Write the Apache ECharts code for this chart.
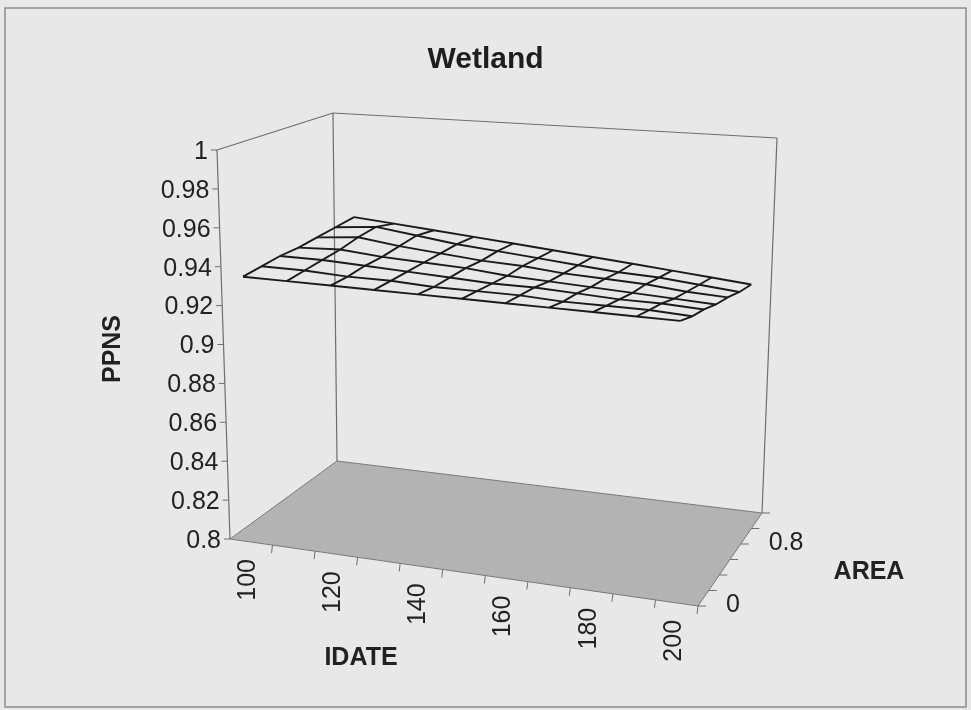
<!DOCTYPE html>
<html><head><meta charset="utf-8">
<script src="https://cdn.jsdelivr.net/npm/echarts@6/dist/echarts.min.js"></script>
<style>html,body{margin:0;padding:0;background:#e8e8e8}#c{width:971px;height:710px}</style>
</head><body><div id="c"></div>
<script>
// ---------- data ----------
const chartTitle = 'Wetland';
const idateCats = [100,110,120,130,140,150,160,170,180,190,200];
const idateLabels = ['100','','120','','140','','160','','180','','200'];
const areaCats = [0,0.2,0.4,0.6,0.8,1.0,1.2];
const areaLabels = ['0','','','','0.8','',''];
const ppnsTicks = [0.8,0.82,0.84,0.86,0.88,0.9,0.92,0.94,0.96,0.98,1];
const ppnsLabels = ['0.8','0.82','0.84','0.86','0.88','0.9','0.92','0.94','0.96','0.98','1'];
const ppnsMin = 0.8, ppnsMax = 1;
// PPNS surface rows, one per AREA series (front to back), across IDATE
const ppnsArea0  = [0.936,0.936,0.936,0.936,0.936,0.936,0.936,0.936,0.936,0.936,0.936];
const ppnsArea02 = [0.937,0.937,0.936,0.936,0.935,0.935,0.935,0.934,0.934,0.934,0.933];
const ppnsArea04 = [0.938,0.938,0.937,0.936,0.935,0.934,0.934,0.933,0.932,0.932,0.931];
const ppnsArea06 = [0.938,0.939,0.937,0.936,0.935,0.933,0.932,0.931,0.930,0.929,0.928];
const ppnsArea08 = [0.939,0.941,0.938,0.936,0.934,0.933,0.931,0.930,0.929,0.927,0.926];
const ppnsArea10 = [0.940,0.942,0.939,0.936,0.934,0.932,0.930,0.928,0.927,0.925,0.923];
const ppnsArea12 = [0.941,0.939,0.937,0.935,0.933,0.931,0.929,0.927,0.925,0.923,0.921];
const surfaceRows = [ppnsArea0,ppnsArea02,ppnsArea04,ppnsArea06,ppnsArea08,ppnsArea10,ppnsArea12];

// ---------- 3D box layout (projection of the unit cube) ----------
const BOX = {
  f0:[230,539], f1:[698,606], b0:[337,461], b1:[762,513],      // floor corners
  hf0:[-13,-389], hf1:[6,-416], hb0:[-4,-348], hb1:[15,-375]    // vertical edge vectors
};
function bil(a,b,c,d,u,v){ // a(0,0) b(1,0) c(0,1) d(1,1)
  return [0,1].map(k => a[k]*(1-u)*(1-v) + b[k]*u*(1-v) + c[k]*(1-u)*v + d[k]*u*v);
}
function proj(u,v,w){
  const f = bil(BOX.f0,BOX.f1,BOX.b0,BOX.b1,u,v);
  const h = bil(BOX.hf0,BOX.hf1,BOX.hb0,BOX.hb1,u,v);
  return [f[0]+w*h[0], f[1]+w*h[1]];
}
const nI = idateCats.length, nA = areaCats.length;
const uOf = i => (i+0.5)/nI;        // categories centred in slots
const vOf = j => j/(nA-1);          // series on tick marks
const wOf = p => (p-ppnsMin)/(ppnsMax-ppnsMin);

// ---------- build geometry from data ----------
const floorPoly = [proj(0,0,0),proj(1,0,0),proj(1,1,0),proj(0,1,0)];
const boxSegs = [
  [proj(0,0,0),proj(0,0,1)], [proj(0,0,1),proj(0,1,1)], [proj(0,1,0),proj(0,1,1)],
  [proj(0,1,1),proj(1,1,1)], [proj(1,1,1),proj(1,1,0)]
];
const tickSegs = [];
ppnsTicks.forEach(t => { const p = proj(0,0,wOf(t)); tickSegs.push([p,[p[0]-6,p[1]]]); });
for (let i=1;i<=nI;i++){ const p = proj(i/nI,0,0); tickSegs.push([p,[p[0]-1,p[1]+8]]); }
areaCats.forEach((a,j) => { const p = proj(1,vOf(j),0); tickSegs.push([p,[p[0]+8,p[1]]]); });

const surfLines = [];
surfaceRows.forEach((row,j) => surfLines.push(row.map((val,i) => proj(uOf(i),vOf(j),wOf(val)))));
idateCats.forEach((c,i) => surfLines.push(surfaceRows.map((row,j) => proj(uOf(i),vOf(j),wOf(row[i])))));

const FONT = '"Liberation Sans", Arial, sans-serif';
const texts = [];
ppnsTicks.forEach((t,k) => { const p = proj(0,0,wOf(t));
  texts.push({p:[p[0]-9,p[1]+2], text:ppnsLabels[k], align:'right', va:'middle', rot:0, font:'25px '+FONT}); });
idateCats.forEach((c,i) => { if(!idateLabels[i]) return; const p = proj(uOf(i),0,0);
  texts.push({p:[p[0]-3,p[1]+17], text:idateLabels[i], align:'right', va:'middle', rot:Math.PI/2, font:'25px '+FONT}); });
areaCats.forEach((a,j) => { if(!areaLabels[j]) return; const p = proj(1,vOf(j),0);
  texts.push({p:[p[0]+28,p[1]-1], text:areaLabels[j], align:'left', va:'middle', rot:0, font:'25px '+FONT}); });
texts.push({p:[113,349], text:'PPNS', align:'center', va:'middle', rot:Math.PI/2, font:'bold 25px '+FONT});
texts.push({p:[361,658], text:'IDATE', align:'center', va:'middle', rot:0, font:'bold 25px '+FONT});
texts.push({p:[869,572], text:'AREA', align:'center', va:'middle', rot:0, font:'bold 25px '+FONT});

// ---------- chart ----------
const chart = echarts.init(document.getElementById('c'), null, {renderer:'canvas'});
chart.setOption({
  backgroundColor:'#e8e8e8',
  animation:false,
  title:{ text:chartTitle, left:'center', top:40, textStyle:{fontFamily:FONT, fontWeight:'bold', fontSize:30, color:'#1e1e1e'} },
  graphic:[{type:'rect', shape:{x:5,y:8,width:961,height:699}, style:{fill:null, stroke:'#8c8c8c', lineWidth:1.5}, silent:true}],
  grid:{left:0,right:0,top:0,bottom:0},
  xAxis:{type:'value', min:0, max:971, show:false},
  yAxis:{type:'value', min:0, max:710, inverse:true, show:false},
  series:[
    { type:'custom', silent:true, data:[0],
      renderItem:(params,api)=>({type:'polygon', shape:{points:floorPoly.map(p=>api.coord(p))},
        style:{fill:'#b3b3b3', stroke:'#7a7a7a', lineWidth:1}}) },
    { type:'custom', silent:true, data:boxSegs.map((s,k)=>k),
      renderItem:(params,api)=>{const s=boxSegs[params.dataIndex]; const a=api.coord(s[0]), b=api.coord(s[1]);
        return {type:'line', shape:{x1:a[0],y1:a[1],x2:b[0],y2:b[1]}, style:{stroke:'#6e6e6e', lineWidth:1.2}};} },
    { type:'custom', silent:true, data:tickSegs.map((s,k)=>k),
      renderItem:(params,api)=>{const s=tickSegs[params.dataIndex]; const a=api.coord(s[0]), b=api.coord(s[1]);
        return {type:'line', shape:{x1:a[0],y1:a[1],x2:b[0],y2:b[1]}, style:{stroke:'#6e6e6e', lineWidth:1}};} },
    { type:'custom', silent:true, data:surfLines.map((s,k)=>k),
      renderItem:(params,api)=>({type:'polyline', shape:{points:surfLines[params.dataIndex].map(p=>api.coord(p))},
        style:{stroke:'#1a1a1a', lineWidth:1.9, fill:null}}) },
    { type:'custom', silent:true, data:texts.map((t,k)=>k),
      renderItem:(params,api)=>{const t=texts[params.dataIndex]; const c=api.coord(t.p);
        return {type:'text', x:c[0], y:c[1], rotation:t.rot,
          style:{text:t.text, x:0, y:0, align:t.align, verticalAlign:t.va, font:t.font, fill:'#222'}};} }
  ]
});
</script></body></html>
